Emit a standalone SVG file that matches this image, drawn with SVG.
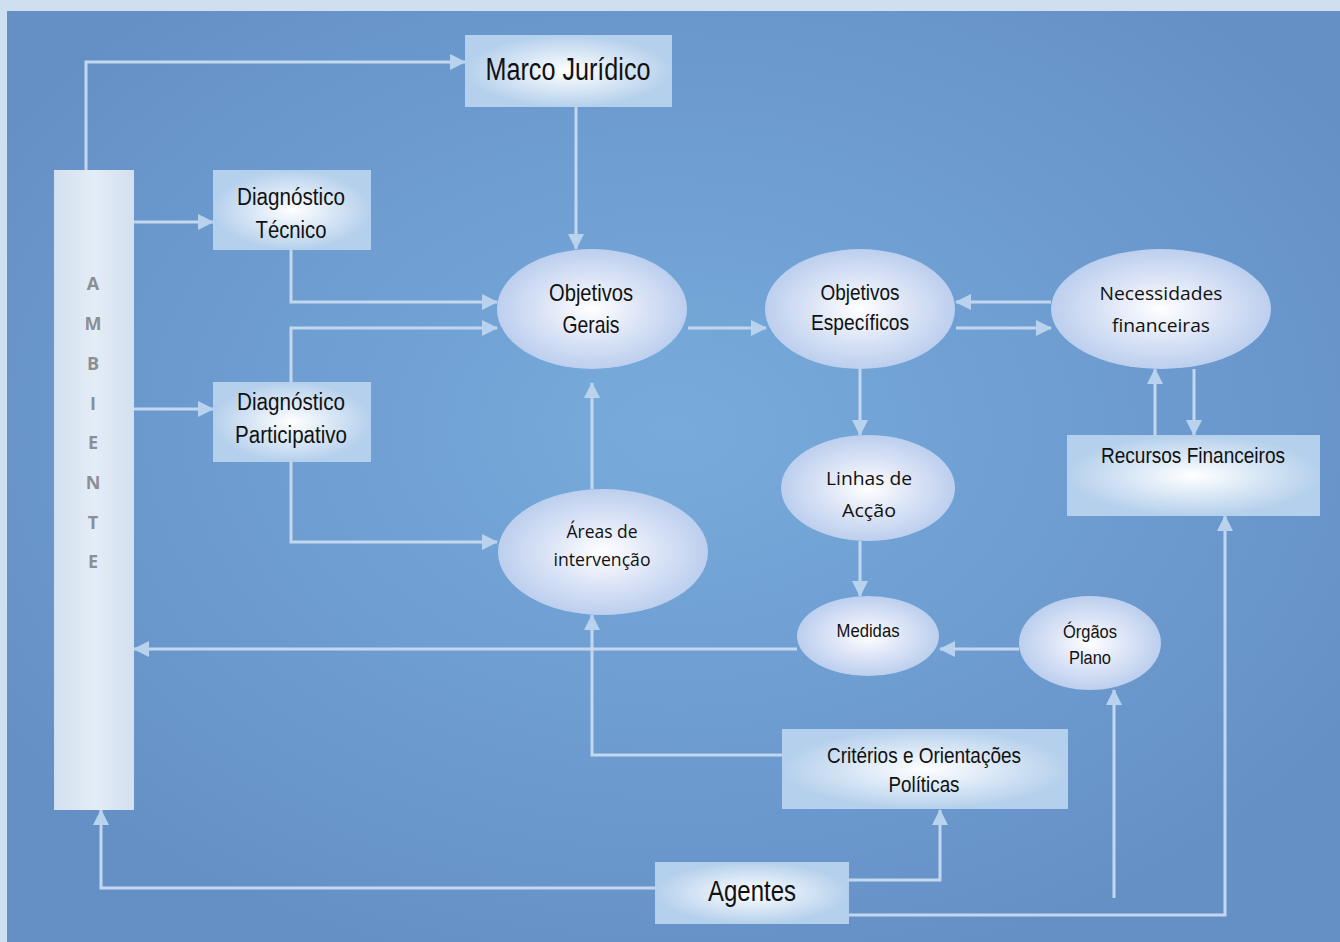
<svg xmlns="http://www.w3.org/2000/svg" width="1340" height="942" viewBox="0 0 1340 942">
<defs>
  <radialGradient id="bg" cx="0.5" cy="0.45" r="0.6">
    <stop offset="0" stop-color="#78abdc"/>
    <stop offset="1" stop-color="#6590c6"/>
  </radialGradient>
  <radialGradient id="rectG" cx="0.5" cy="0.5" r="0.5">
    <stop offset="0" stop-color="#ffffff"/>
    <stop offset="0.55" stop-color="#d6e5f5"/>
    <stop offset="1" stop-color="#b5d0ec"/>
  </radialGradient>
  <radialGradient id="ellG" cx="0.5" cy="0.5" r="0.5">
    <stop offset="0" stop-color="#ffffff"/>
    <stop offset="0.5" stop-color="#dde5f7"/>
    <stop offset="1" stop-color="#bccfee"/>
  </radialGradient>
  <linearGradient id="ambG" x1="0" y1="0" x2="1" y2="0">
    <stop offset="0" stop-color="#d3e0ef"/>
    <stop offset="0.5" stop-color="#e4ecf6"/>
    <stop offset="1" stop-color="#d3e0ef"/>
  </linearGradient>
  <marker id="ah" viewBox="0 0 16 16" refX="15" refY="8" markerWidth="16" markerHeight="16" markerUnits="userSpaceOnUse" orient="auto">
    <path d="M0,0 L16,8 L0,16 Z" fill="#b9d3ee"/>
  </marker>
  <style>
    .ca { fill: none; stroke: #c3d8f0; stroke-width: 3; marker-end: url(#ah); }
    .rn { fill: url(#rectG); }
    .en { fill: url(#ellG); }
    .t { font-family: "Liberation Sans", Arial, sans-serif; fill: #111; text-anchor: middle; }
    .o { font-family: "Open Sans", "Noto Sans", sans-serif; fill: #111; text-anchor: middle; }
    .amb { font-family: "Open Sans", "Noto Sans", sans-serif; font-weight: bold; fill: #8a8f96; text-anchor: middle; font-size: 18px; }
  </style>
</defs>
<rect x="0" y="0" width="1340" height="942" fill="#d0dff0"/>
<rect x="7" y="11" width="1333" height="931" fill="url(#bg)"/>

<g id="connectors">
  <path class="ca" d="M86,170 V62 H465"/>
  <path class="ca" d="M134,222 H213"/>
  <path class="ca" d="M134,409 H213"/>
  <path class="ca" d="M576,107 V249"/>
  <path class="ca" d="M291,250 V302 H497"/>
  <path class="ca" d="M291,382 V328 H497"/>
  <path class="ca" d="M291,462 V542 H497"/>
  <path class="ca" d="M592,489 V383"/>
  <path class="ca" d="M688,328 H766"/>
  <path class="ca" d="M1051,302 H956"/>
  <path class="ca" d="M956,328 H1051"/>
  <path class="ca" d="M860,369 V435"/>
  <path class="ca" d="M1155,435 V369"/>
  <path class="ca" d="M1194,369 V435"/>
  <path class="ca" d="M860,541 V596"/>
  <path class="ca" d="M1019,649 H940"/>
  <path class="ca" d="M797,649 H134"/>
  <path class="ca" d="M782,755 H592 V615"/>
  <path class="ca" d="M655,888 H101 V810"/>
  <path class="ca" d="M849,880 H940 V810"/>
  <path class="ca" d="M1114,898 V690"/>
  <path class="ca" d="M849,915 H1225 V516"/>
</g>

<g id="ambiente">
  <rect x="54" y="170" width="80" height="640" fill="url(#ambG)"/>
  <text class="amb" x="93" y="290">A</text>
  <text class="amb" x="93" y="330">M</text>
  <text class="amb" x="93" y="370">B</text>
  <text class="amb" x="93" y="410">I</text>
  <text class="amb" x="93" y="449">E</text>
  <text class="amb" x="93" y="489">N</text>
  <text class="amb" x="93" y="529">T</text>
  <text class="amb" x="93" y="568">E</text>
</g>

<g id="marco-juridico">
  <rect class="rn" x="465" y="35" width="207" height="72"/>
  <text class="t" x="568" y="80" font-size="31" textLength="165" lengthAdjust="spacingAndGlyphs">Marco Jurídico</text>
</g>

<g id="diagnostico-tecnico">
  <rect class="rn" x="213" y="170" width="158" height="80"/>
  <text class="t" x="291" y="205" font-size="23" textLength="108" lengthAdjust="spacingAndGlyphs">Diagnóstico</text>
  <text class="t" x="291" y="238" font-size="23" textLength="71" lengthAdjust="spacingAndGlyphs">Técnico</text>
</g>

<g id="diagnostico-participativo">
  <rect class="rn" x="213" y="382" width="158" height="80"/>
  <text class="t" x="291" y="410" font-size="23" textLength="108" lengthAdjust="spacingAndGlyphs">Diagnóstico</text>
  <text class="t" x="291" y="443" font-size="23" textLength="112" lengthAdjust="spacingAndGlyphs">Participativo</text>
</g>

<g id="objetivos-gerais">
  <ellipse class="en" cx="592" cy="309" rx="95" ry="60"/>
  <text class="t" x="591" y="301" font-size="24" textLength="84" lengthAdjust="spacingAndGlyphs">Objetivos</text>
  <text class="t" x="591" y="333" font-size="24" textLength="57" lengthAdjust="spacingAndGlyphs">Gerais</text>
</g>

<g id="objetivos-especificos">
  <ellipse class="en" cx="860" cy="309" rx="95" ry="60"/>
  <text class="t" x="860" y="300" font-size="22" textLength="79" lengthAdjust="spacingAndGlyphs">Objetivos</text>
  <text class="t" x="860" y="330" font-size="22" textLength="98" lengthAdjust="spacingAndGlyphs">Específicos</text>
</g>

<g id="necessidades-financeiras">
  <ellipse class="en" cx="1161" cy="309" rx="110" ry="60"/>
  <text class="o" x="1161" y="300" font-size="19" textLength="123" lengthAdjust="spacingAndGlyphs">Necessidades</text>
  <text class="o" x="1161" y="332" font-size="19" textLength="98" lengthAdjust="spacingAndGlyphs">financeiras</text>
</g>

<g id="recursos-financeiros">
  <rect class="rn" x="1067" y="435" width="253" height="81"/>
  <text class="t" x="1193" y="463" font-size="22" textLength="184" lengthAdjust="spacingAndGlyphs">Recursos Financeiros</text>
</g>

<g id="linhas-de-accao">
  <ellipse class="en" cx="868" cy="488" rx="87" ry="53"/>
  <text class="o" x="869" y="485" font-size="19" textLength="86" lengthAdjust="spacingAndGlyphs">Linhas de</text>
  <text class="o" x="869" y="517" font-size="19" textLength="54" lengthAdjust="spacingAndGlyphs">Acção</text>
</g>

<g id="areas-de-intervencao">
  <ellipse class="en" cx="603" cy="552" rx="105" ry="63"/>
  <text class="o" x="602" y="538" font-size="17.5" textLength="71" lengthAdjust="spacingAndGlyphs">Áreas de</text>
  <text class="o" x="602" y="566" font-size="17.5" textLength="97" lengthAdjust="spacingAndGlyphs">intervenção</text>
</g>

<g id="medidas">
  <ellipse class="en" cx="868" cy="636" rx="71" ry="40"/>
  <text class="t" x="868" y="637" font-size="18.5" textLength="63" lengthAdjust="spacingAndGlyphs">Medidas</text>
</g>

<g id="orgaos-plano">
  <ellipse class="en" cx="1090" cy="643" rx="71" ry="47"/>
  <text class="t" x="1090" y="638" font-size="18.5" textLength="54" lengthAdjust="spacingAndGlyphs">Órgãos</text>
  <text class="t" x="1090" y="664" font-size="18.5" textLength="42" lengthAdjust="spacingAndGlyphs">Plano</text>
</g>

<g id="criterios">
  <rect class="rn" x="782" y="729" width="286" height="80"/>
  <text class="t" x="924" y="763" font-size="22" textLength="194" lengthAdjust="spacingAndGlyphs">Critérios e Orientações</text>
  <text class="t" x="924" y="792" font-size="22" textLength="71" lengthAdjust="spacingAndGlyphs">Políticas</text>
</g>

<g id="agentes">
  <rect class="rn" x="655" y="862" width="194" height="62"/>
  <text class="t" x="752" y="901" font-size="30" textLength="88" lengthAdjust="spacingAndGlyphs">Agentes</text>
</g>
</svg>
